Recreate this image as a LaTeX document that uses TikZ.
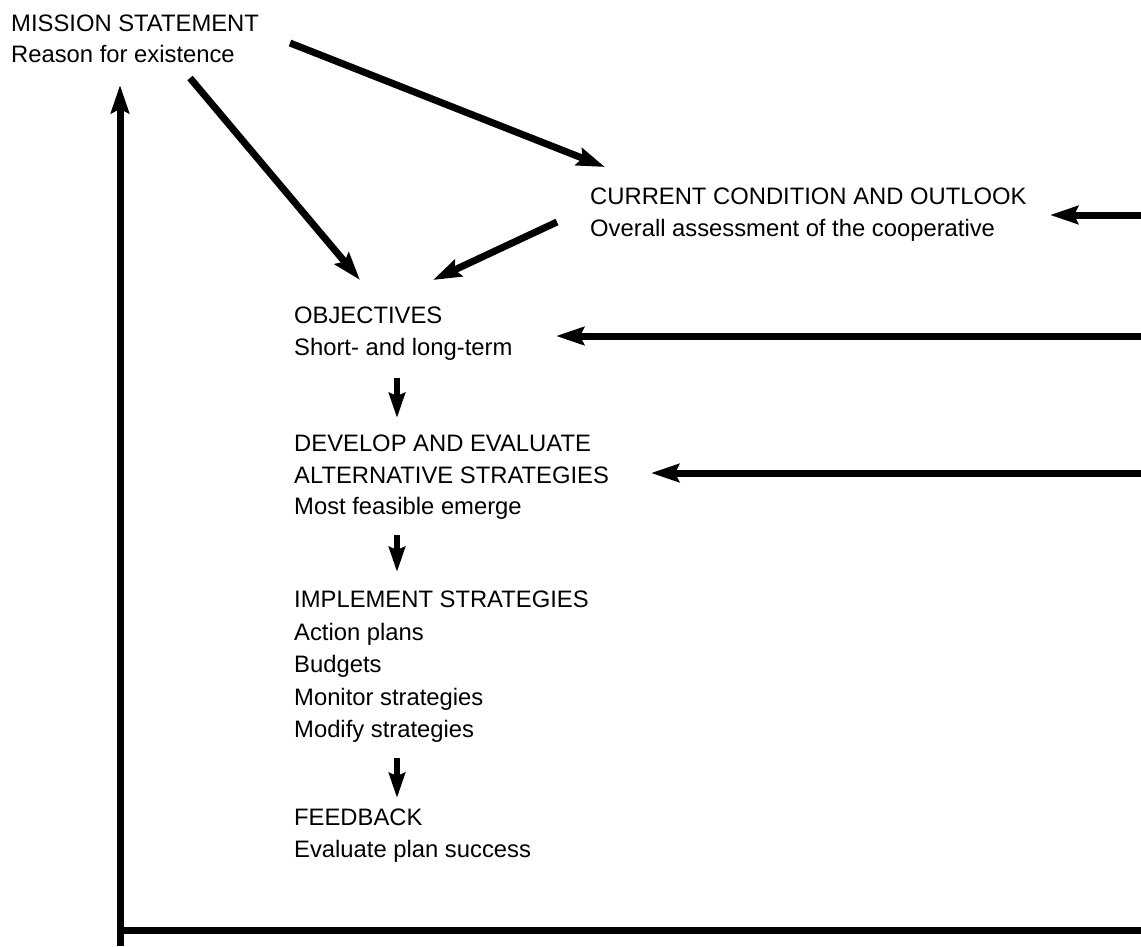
\documentclass[tikz,border=0pt]{standalone}
\usepackage{fontspec}
\setmainfont{Liberation Sans}
\usetikzlibrary{arrows.meta}
\begin{document}
\begin{tikzpicture}[x=1pt,y=-1pt,
  lbl/.style={anchor=base west, inner sep=0pt, font=\fontsize{23.8}{28}\selectfont},
  tip/.style={-{Stealth[length=28pt,width=18pt,inset=4pt]}},
  arr/.style={line width=7pt, tip},
  darr/.style={line width=6pt, -{Stealth[length=25pt,width=16pt,inset=3pt]}},
  loopline/.style={line width=7pt},
]
\useasboundingbox (0,0) rectangle (1141,946);
% texts
\node[lbl] (mission)  at (11,31)  {MISSION STATEMENT};
\node[lbl] (missionB) at (11,62)  {Reason for existence};
\node[lbl] (current)  at (590,204) {CURRENT CONDITION AND OUTLOOK};
\node[lbl] (currentB) at (590,236) {Overall assessment of the cooperative};
\node[lbl] (obj)  at (294,323) {OBJECTIVES};
\node[lbl] (objB) at (294,355) {Short- and long-term};
\node[lbl] (dev)  at (294,451) {DEVELOP AND EVALUATE};
\node[lbl] (devB) at (294,483) {ALTERNATIVE STRATEGIES};
\node[lbl] (devC) at (294,514) {Most feasible emerge};
\node[lbl] (imp)  at (294,607) {IMPLEMENT STRATEGIES};
\node[lbl] (impB) at (294,640) {Action plans};
\node[lbl] (impC) at (294,672) {Budgets};
\node[lbl] (impD) at (294,705) {Monitor strategies};
\node[lbl] (impE) at (294,737) {Modify strategies};
\node[lbl] (fb)   at (294,825) {FEEDBACK};
\node[lbl] (fbB)  at (294,857) {Evaluate plan success};
% connector end points
\coordinate (mA) at (290,43);
\coordinate (cIn) at (605,167);
\coordinate (mB) at (190,78);
\coordinate (oIn1) at (360,280);
\coordinate (cOut) at (557,222);
\coordinate (oIn2) at (433,280);
\coordinate (rC) at (1141,215);
\coordinate (cIn2) at (1050,215);
\coordinate (rO) at (1141,336);
\coordinate (oIn3) at (556,336);
\coordinate (rD) at (1141,473);
\coordinate (dIn) at (651,473);
\coordinate (d1s) at (397,378);
\coordinate (d1e) at (397,418);
\coordinate (d2s) at (397,535);
\coordinate (d2e) at (397,572);
\coordinate (d3s) at (397,758);
\coordinate (d3e) at (397,798);
\coordinate (lb) at (120,946);
\coordinate (corner) at (120,930);
\coordinate (rb) at (1141,930);
\coordinate (mIn) at (120,85);
% connectors
\draw[arr] (mA) -- (cIn);
\draw[arr] (mB) -- (oIn1);
\draw[arr] (cOut) -- (oIn2);
\draw[arr] (rC) -- (cIn2);
\draw[arr] (rO) -- (oIn3);
\draw[arr] (rD) -- (dIn);
\draw[darr] (d1s) -- (d1e);
\draw[darr] (d2s) -- (d2e);
\draw[darr] (d3s) -- (d3e);
\draw[loopline] (corner) -- (rb);
\draw[loopline, tip] (lb) -- (mIn);
\end{tikzpicture}
\end{document}
